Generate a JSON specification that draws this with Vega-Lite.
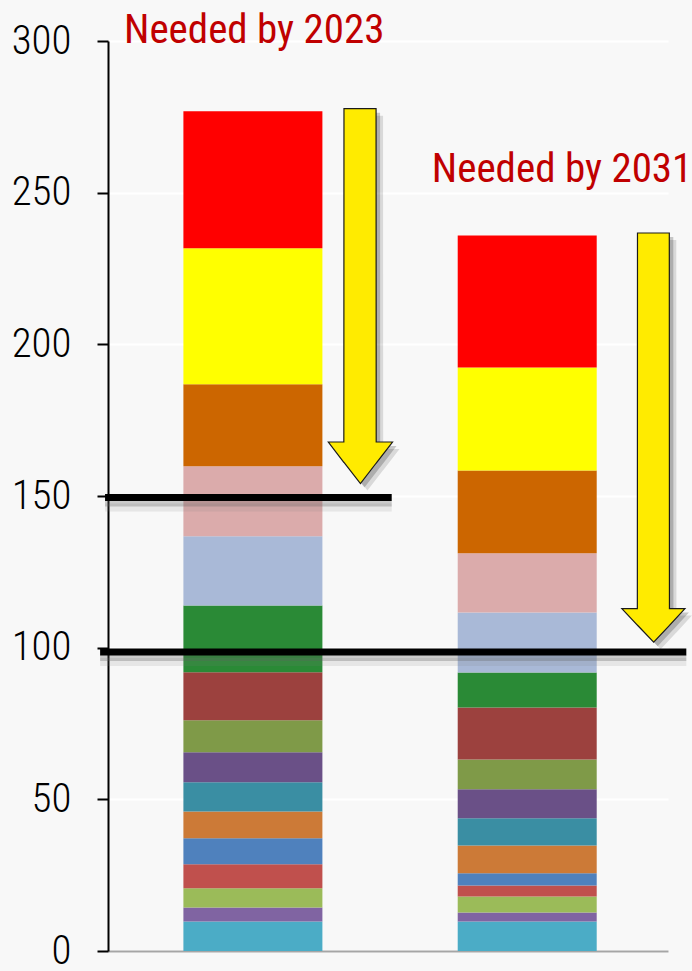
{
  "$schema": "https://vega.github.io/schema/vega-lite/v6.json",
  "width": 560,
  "height": 910,
  "autosize": {"type": "none"},
  "padding": {"left": 108, "top": 41, "right": 24, "bottom": 20},
  "background": "#f8f8f8",
  "config": {
    "view": {"stroke": null, "fill": "#f8f8f8"},
    "font": "'Roboto Condensed', 'DejaVu Sans Condensed', Roboto"
  },
  "datasets": {
    "segments": [
      {"bar": 1, "order": 1, "seg": "s01", "value": 9.7},
      {"bar": 1, "order": 2, "seg": "s02", "value": 4.6},
      {"bar": 1, "order": 3, "seg": "s03", "value": 6.4},
      {"bar": 1, "order": 4, "seg": "s04", "value": 7.9},
      {"bar": 1, "order": 5, "seg": "s05", "value": 8.6},
      {"bar": 1, "order": 6, "seg": "s06", "value": 8.8},
      {"bar": 1, "order": 7, "seg": "s07", "value": 9.6},
      {"bar": 1, "order": 8, "seg": "s08", "value": 9.9},
      {"bar": 1, "order": 9, "seg": "s09", "value": 10.6},
      {"bar": 1, "order": 10, "seg": "s10", "value": 15.8},
      {"bar": 1, "order": 11, "seg": "s11", "value": 22.0},
      {"bar": 1, "order": 12, "seg": "s12", "value": 22.8},
      {"bar": 1, "order": 13, "seg": "s13", "value": 23.1},
      {"bar": 1, "order": 14, "seg": "s14", "value": 27.0},
      {"bar": 1, "order": 15, "seg": "s15", "value": 44.9},
      {"bar": 1, "order": 16, "seg": "s16", "value": 45.1},
      {"bar": 2, "order": 1, "seg": "s01", "value": 9.7},
      {"bar": 2, "order": 2, "seg": "s02", "value": 3.0},
      {"bar": 2, "order": 3, "seg": "s03", "value": 5.3},
      {"bar": 2, "order": 4, "seg": "s04", "value": 3.6},
      {"bar": 2, "order": 5, "seg": "s05", "value": 4.0},
      {"bar": 2, "order": 6, "seg": "s06", "value": 9.2},
      {"bar": 2, "order": 7, "seg": "s07", "value": 9.0},
      {"bar": 2, "order": 8, "seg": "s08", "value": 9.5},
      {"bar": 2, "order": 9, "seg": "s09", "value": 9.8},
      {"bar": 2, "order": 10, "seg": "s10", "value": 17.2},
      {"bar": 2, "order": 11, "seg": "s11", "value": 11.5},
      {"bar": 2, "order": 12, "seg": "s12", "value": 19.8},
      {"bar": 2, "order": 13, "seg": "s13", "value": 19.5},
      {"bar": 2, "order": 14, "seg": "s14", "value": 27.3},
      {"bar": 2, "order": 15, "seg": "s15", "value": 34.0},
      {"bar": 2, "order": 16, "seg": "s16", "value": 43.5}
    ],
    "thresholds": [
      {"level": 149.5, "from": 0.461, "to": 1.506},
      {"level": 98.6, "from": 0.443, "to": 2.58}
    ],
    "arrows": [
      {"arrow": "a", "x": 1.275, "top": 167.8, "bottom": 167.8},
      {"arrow": "a", "x": 1.3315, "top": 167.8, "bottom": 161.1},
      {"arrow": "a", "x": 1.332, "top": 277.7, "bottom": 161.1},
      {"arrow": "a", "x": 1.392, "top": 277.7, "bottom": 154.1},
      {"arrow": "a", "x": 1.449, "top": 277.7, "bottom": 160.8},
      {"arrow": "a", "x": 1.4495, "top": 167.8, "bottom": 160.8},
      {"arrow": "a", "x": 1.509, "top": 167.8, "bottom": 167.8},
      {"arrow": "b", "x": 2.345, "top": 112.9, "bottom": 112.9},
      {"arrow": "b", "x": 2.4015, "top": 112.9, "bottom": 107.4},
      {"arrow": "b", "x": 2.402, "top": 236.7, "bottom": 107.4},
      {"arrow": "b", "x": 2.461, "top": 236.7, "bottom": 101.8},
      {"arrow": "b", "x": 2.518, "top": 236.7, "bottom": 107.3},
      {"arrow": "b", "x": 2.5185, "top": 112.9, "bottom": 107.3},
      {"arrow": "b", "x": 2.575, "top": 112.9, "bottom": 112.9}
    ],
    "notes": [
      {"label": "Needed by 2023", "x": 0.53, "y": 299.2},
      {"label": "Needed by 2031", "x": 1.652, "y": 253.4}
    ]
  },
  "encoding": {
    "x": {
      "type": "quantitative",
      "scale": {"domain": [0.49, 2.495], "nice": false, "zero": false},
      "axis": {"title": null, "labels": false, "ticks": false, "grid": false, "domainColor": "#a6a6a6", "domainWidth": 2}
    },
    "y": {
      "type": "quantitative",
      "scale": {"domain": [0, 300], "nice": false},
      "axis": {
        "title": null,
        "values": [0, 50, 100, 150, 200, 250, 300],
        "labelFont": "'Roboto Condensed', 'DejaVu Sans Condensed', Roboto",
        "labelFontSize": 41,
        "labelFontWeight": 300,
        "labelColor": "#000000",
        "labelPadding": 26,
        "tickSize": 11,
        "tickWidth": 2,
        "tickColor": "#000000",
        "domainColor": "#000000",
        "domainWidth": 2,
        "gridColor": "#ffffff",
        "gridWidth": 2
      }
    }
  },
  "layer": [
    {
      "data": {"name": "segments"},
      "transform": [
        {"stack": "value", "groupby": ["bar"], "sort": [{"field": "order", "order": "ascending"}], "as": ["lo", "hi"]}
      ],
      "mark": {"type": "bar", "width": 139},
      "encoding": {
        "x": {"field": "bar", "type": "quantitative"},
        "y": {"field": "lo", "type": "quantitative"},
        "y2": {"field": "hi"},
        "color": {
          "field": "seg",
          "type": "nominal",
          "legend": null,
          "scale": {
            "domain": ["s01", "s02", "s03", "s04", "s05", "s06", "s07", "s08", "s09", "s10", "s11", "s12", "s13", "s14", "s15", "s16"],
            "range": ["#4bacc6", "#8064a2", "#9bbb59", "#c0504d", "#4f81bd", "#cc7a37", "#3a8ea3", "#6a5087", "#7f9a48", "#9c413e", "#2a8a36", "#a9b9d7", "#dbabab", "#cc6600", "#ffff00", "#ff0000"]
          }
        }
      }
    },
    {
      "data": {"name": "thresholds"},
      "mark": {"type": "rule", "color": "#808080", "strokeWidth": 8, "opacity": 0.15, "yOffset": 10},
      "encoding": {
        "x": {"field": "from", "type": "quantitative"},
        "x2": {"field": "to"},
        "y": {"field": "level", "type": "quantitative"}
      }
    },
    {
      "data": {"name": "thresholds"},
      "mark": {"type": "rule", "color": "#606060", "strokeWidth": 6, "opacity": 0.3, "yOffset": 6},
      "encoding": {
        "x": {"field": "from", "type": "quantitative"},
        "x2": {"field": "to"},
        "y": {"field": "level", "type": "quantitative"}
      }
    },
    {
      "data": {"name": "thresholds"},
      "mark": {"type": "rule", "color": "#000000", "strokeWidth": 7},
      "encoding": {
        "x": {"field": "from", "type": "quantitative"},
        "x2": {"field": "to"},
        "y": {"field": "level", "type": "quantitative"}
      }
    },
    {
      "data": {"name": "arrows"},
      "mark": {"type": "area", "color": "#000000", "opacity": 0.12, "xOffset": 7, "yOffset": 7, "y2Offset": 7},
      "encoding": {
        "x": {"field": "x", "type": "quantitative"},
        "y": {"field": "top", "type": "quantitative", "stack": null},
        "y2": {"field": "bottom"},
        "detail": {"field": "arrow"}
      }
    },
    {
      "data": {"name": "arrows"},
      "mark": {"type": "area", "color": "#000000", "opacity": 0.2, "xOffset": 4, "yOffset": 4, "y2Offset": 4},
      "encoding": {
        "x": {"field": "x", "type": "quantitative"},
        "y": {"field": "top", "type": "quantitative", "stack": null},
        "y2": {"field": "bottom"},
        "detail": {"field": "arrow"}
      }
    },
    {
      "data": {"name": "arrows"},
      "mark": {"type": "area", "fill": "#ffeb00", "stroke": "#1a1a1a", "strokeWidth": 1.2, "fillOpacity": 1},
      "encoding": {
        "x": {"field": "x", "type": "quantitative"},
        "y": {"field": "top", "type": "quantitative", "stack": null},
        "y2": {"field": "bottom"},
        "detail": {"field": "arrow"}
      }
    },
    {
      "data": {"name": "notes"},
      "mark": {"type": "text", "align": "left", "baseline": "alphabetic", "font": "'Roboto Condensed', 'DejaVu Sans Condensed', Roboto", "fontSize": 41, "color": "#c00000"},
      "encoding": {
        "x": {"field": "x", "type": "quantitative"},
        "y": {"field": "y", "type": "quantitative"},
        "text": {"field": "label"}
      }
    }
  ]
}
